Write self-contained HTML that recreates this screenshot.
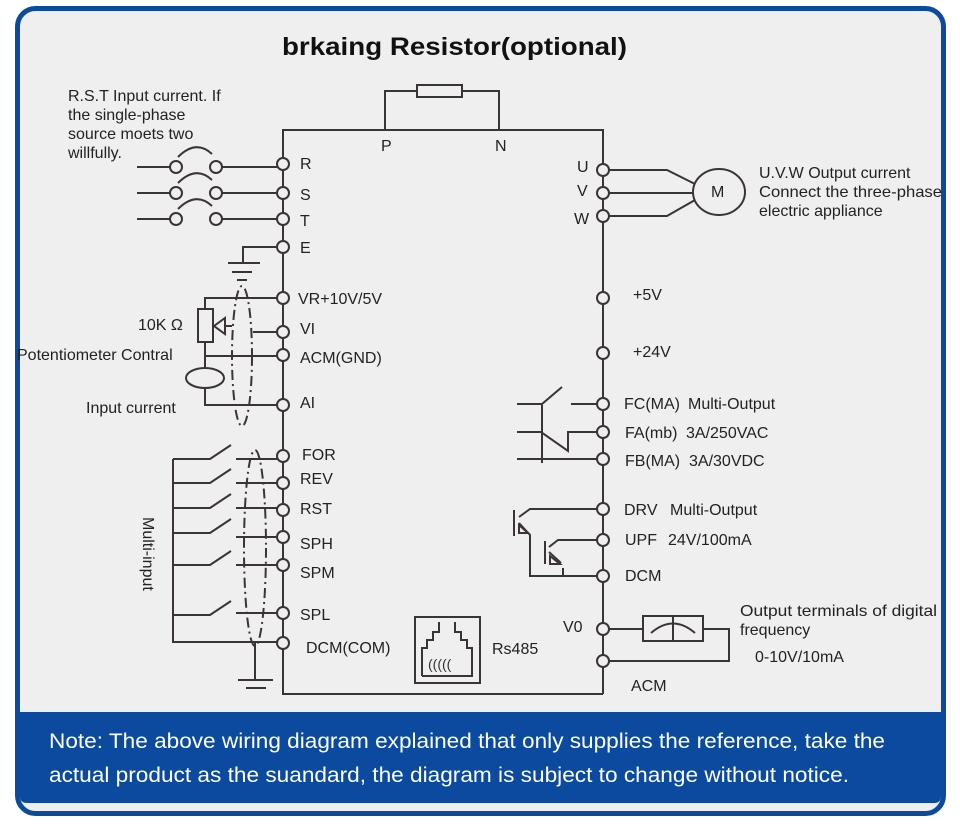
<!DOCTYPE html>
<html><head><meta charset="utf-8"><style>
html,body{margin:0;padding:0;background:#fff;}
svg{display:block;}
text{font-family:"Liberation Sans",sans-serif;fill:#222;}
</style></head><body>
<svg width="960" height="824" viewBox="0 0 960 824" xmlns="http://www.w3.org/2000/svg">
<rect x="17.5" y="8.5" width="926" height="805" rx="18" fill="#efefef" stroke="#0b4a9e" stroke-width="5"/>
<path d="M20 712 H941 V796 Q941 803 934 803 H27 Q20 803 20 796 Z" fill="#0b4a9e"/>
<text x="282" y="55" font-size="25" font-weight="bold" textLength="345" lengthAdjust="spacingAndGlyphs" style="fill:#111">brkaing Resistor(optional)</text>
<text x="49" y="748" font-size="21" textLength="836" lengthAdjust="spacingAndGlyphs" style="fill:#fff">Note: The above wiring diagram explained that only supplies the reference, take the</text>
<text x="49" y="782" font-size="21" textLength="800" lengthAdjust="spacingAndGlyphs" style="fill:#fff">actual product as the suandard, the diagram is subject to change without notice.</text>

<g stroke="#3a3432" stroke-width="2" fill="none">
<path d="M283 170 V130 H603 V165 M603 694 H283 V650"/>
<line x1="283" y1="170" x2="283" y2="650"/>
<line x1="603" y1="165" x2="603" y2="694"/>
<path d="M385 130 V91 H417 M462 91 H499 V130"/>
<rect x="417" y="85" width="45" height="12"/>
<path d="M137 167 H170 M222 167 H277 M137 193 H170 M222 193 H277 M137 219 H170 M222 219 H277"/>
<circle cx="176" cy="167" r="6" fill="#efefef"/><circle cx="216" cy="167" r="6" fill="#efefef"/>
<circle cx="176" cy="193" r="6" fill="#efefef"/><circle cx="216" cy="193" r="6" fill="#efefef"/>
<circle cx="176" cy="219" r="6" fill="#efefef"/><circle cx="216" cy="219" r="6" fill="#efefef"/>
<path d="M178 157 Q196 139 212 154 M178 183 Q196 165 212 180 M178 209 Q196 191 212 206"/>
<path d="M277 247 H243 V263 M228 263 H260 M232 272 H252 M237 280 H247"/>
<ellipse cx="242" cy="356" rx="10" ry="70" stroke-dasharray="10 4 2 4"/>
<path d="M277 298 H205 V309 M205 342 V368 M205 388 V405 H277 M205 356 H277 M253 332 H277"/>
<rect x="198" y="309" width="15" height="33"/>
<path d="M214 326 L225 318 V334 Z M225 326 H232"/>
<ellipse cx="205" cy="378" rx="19" ry="10"/>
<ellipse cx="255" cy="548" rx="11" ry="98" stroke-dasharray="10 4 2 4"/>
<path d="M173 459 V642 H277"/>
<path d="M173 459 H210 L231 445 M236 459 H277"/>
<path d="M173 483 H210 L231 469 M236 483 H277"/>
<path d="M173 508 H210 L231 494 M236 508 H277"/>
<path d="M173 533 H210 L231 519 M236 537 H277"/>
<path d="M173 565 H210 L231 551 M236 565 H277"/>
<path d="M173 615 H210 L231 601 M236 613 H277"/>
<path d="M255 642 V680 M238 680 H273 M246 688 H266"/>
<rect x="415" y="617" width="65" height="66"/>
<path d="M422 676 H472 V648 H467 V640 H461 V632 H455 V622 M422 676 V648 H427 V640 H433 V632 H439 V622"/>
<text x="428" y="669" font-size="14" stroke="none" style="fill:#333">(((((</text>
<path d="M609 170 H667 L695 184 M609 193 H694 M609 216 H667 L695 200"/>
<ellipse cx="719" cy="192" rx="26" ry="23"/>
<path d="M517 404 H542 L562 387 M571 404 H597 M542 405 V463 M517 432 H541 L568 451 V432 H597 M517 459 H597"/>
<path d="M597 509 H530 L519 517 M514 510 V536 M519 523 L530 535 V576 H597"/>
<path d="M519 525 L528 533 H519 Z"/>
<path d="M597 540 H558 L549 547 M545 541 V564 M549 552 L561 563"/>
<path d="M550 556 L560 564 H550 Z"/>
<path d="M563 568 V576"/>
<path d="M609 629 H643 M703 629 H729 V661 H609"/>
<rect x="643" y="616" width="60" height="25"/>
<path d="M673 616 V641 M651 633 Q673 614 695 633"/>
</g>
<g stroke="#3a3432" stroke-width="2" fill="#efefef">
<circle cx="283" cy="164" r="6"/><circle cx="283" cy="193" r="6"/><circle cx="283" cy="219" r="6"/><circle cx="283" cy="247" r="6"/>
<circle cx="283" cy="298" r="6"/><circle cx="283" cy="332" r="6"/><circle cx="283" cy="355" r="6"/><circle cx="283" cy="405" r="6"/>
<circle cx="283" cy="456" r="6"/><circle cx="283" cy="483" r="6"/><circle cx="283" cy="510" r="6"/><circle cx="283" cy="537" r="6"/>
<circle cx="283" cy="565" r="6"/><circle cx="283" cy="613" r="6"/><circle cx="283" cy="643" r="6"/>
<circle cx="603" cy="170" r="6"/><circle cx="603" cy="193" r="6"/><circle cx="603" cy="216" r="6"/>
<circle cx="603" cy="298" r="6"/><circle cx="603" cy="353" r="6"/>
<circle cx="603" cy="404" r="6"/><circle cx="603" cy="432" r="6"/><circle cx="603" cy="459" r="6"/>
<circle cx="603" cy="509" r="6"/><circle cx="603" cy="540" r="6"/><circle cx="603" cy="576" r="6"/>
<circle cx="603" cy="629" r="6"/><circle cx="603" cy="661" r="6"/>
</g>
<g font-size="16">
<text x="68" y="101">R.S.T Input current. If</text>
<text x="68" y="120">the single-phase</text>
<text x="68" y="139">source moets two</text>
<text x="68" y="158">willfully.</text>
<text x="381" y="151">P</text><text x="495" y="151">N</text>
<text x="300" y="169">R</text><text x="300" y="200">S</text><text x="300" y="226">T</text><text x="300" y="253">E</text>
<text x="298" y="304">VR+10V/5V</text><text x="300" y="334">VI</text><text x="300" y="363">ACM(GND)</text><text x="300" y="408">AI</text>
<text x="138" y="330">10K Ω</text>
<text x="17" y="360">Potentiometer Contral</text>
<text x="86" y="413">Input current</text>
<text x="302" y="460">FOR</text><text x="300" y="484">REV</text><text x="300" y="514">RST</text>
<text x="300" y="549">SPH</text><text x="300" y="578">SPM</text><text x="300" y="620">SPL</text>
<text x="306" y="653">DCM(COM)</text>
<text x="0" y="0" transform="translate(143,517) rotate(90)">Multi-input</text>
<text x="492" y="654">Rs485</text>
<text x="577" y="172">U</text><text x="577" y="196">V</text><text x="574" y="224">W</text>
<text x="711" y="197">M</text>
<text x="759" y="178">U.V.W Output current</text>
<text x="759" y="197" textLength="183" lengthAdjust="spacingAndGlyphs">Connect the three-phase</text>
<text x="759" y="216">electric appliance</text>
<text x="633" y="300">+5V</text><text x="633" y="357">+24V</text>
<text x="624" y="409">FC(MA)</text><text x="688" y="409">Multi-Output</text>
<text x="625" y="438">FA(mb)</text><text x="686" y="438">3A/250VAC</text>
<text x="625" y="466">FB(MA)</text><text x="689" y="466">3A/30VDC</text>
<text x="624" y="515">DRV</text><text x="670" y="515">Multi-Output</text>
<text x="625" y="545">UPF</text><text x="668" y="545">24V/100mA</text>
<text x="625" y="581">DCM</text>
<text x="563" y="632">V0</text>
<text x="631" y="691">ACM</text>
<text x="740" y="616" textLength="197" lengthAdjust="spacingAndGlyphs">Output terminals of digital</text>
<text x="740" y="635">frequency</text>
<text x="755" y="662">0-10V/10mA</text>
</g>
</svg>
</body></html>
